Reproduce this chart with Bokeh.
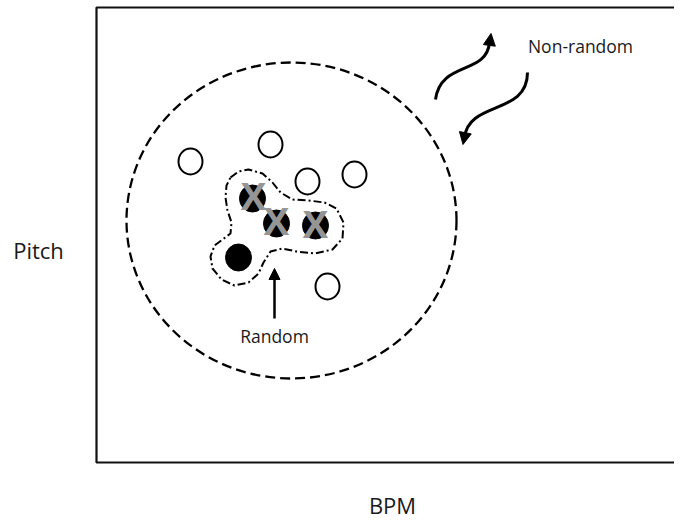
from bokeh.plotting import figure
from bokeh.models import Range1d, Arrow, NormalHead
from bokeh.core.properties import value
from bokeh.embed import file_html
from bokeh.resources import INLINE

# ---- data (diagram coordinates: BPM to the right, pitch downward on screen) ----
open_x = [190, 270, 307, 354, 327]
open_y = [161, 144, 181, 174, 286]

filled_x = [252, 276, 315, 238]
filled_y = [198, 223, 225, 257]

cross_x = [253, 276, 315]
cross_y = [195, 220, 223]
cross_text = ["X", "X", "X"]

cluster_cx, cluster_cy = [291], [220]
cluster_w, cluster_h = [330], [316]

blob_x = [230, 238, 248, 262, 272, 280, 292, 308, 324, 336, 343, 342, 332, 314, 296,
          282, 270, 263, 258, 248, 234, 221, 212, 210, 214, 222, 230, 231, 227, 225, 226, 230]
blob_y = [177, 171, 169, 173, 182, 192, 199, 200, 202, 208, 222, 238, 249, 253, 251,
          248, 251, 262, 273, 282, 285, 279, 268, 256, 245, 239, 233, 222, 210, 197, 185, 177]

frame_x = [700, 96, 96, 700]
frame_y = [7, 7, 462, 462]

labels = ["Random", "Non-random"]
label_x = [274, 580]
label_y = [335, 45]

axis_labels = ["Pitch", "BPM"]
axis_label_x = [38, 392]
axis_label_y = [249, 504]

FONT = "Open Sans"

p = figure(width=674, height=519, x_range=Range1d(0, 674), y_range=Range1d(519, 0),
           x_axis_type=None, y_axis_type=None, toolbar_location=None,
           output_backend="svg", min_border=0)
p.outline_line_color = None
p.grid.visible = False
p.background_fill_color = "white"

# frame
p.line(frame_x, frame_y, line_color="#111111", line_width=2.2)

# big dashed cluster
p.ellipse(x=cluster_cx, y=cluster_cy, width=cluster_w, height=cluster_h,
          fill_color=None, line_color="black", line_width=2.3, line_dash="10 5")

# open circles
p.ellipse(x=open_x, y=open_y, width=24, height=26, fill_color="white",
          line_color="black", line_width=2)

# dash-dot blob
p.line(blob_x, blob_y, line_color="black", line_width=2, line_dash="8 3 2 3")

# filled circles
p.ellipse(x=filled_x, y=filled_y, width=26, height=27, fill_color="black",
          line_color="black", line_width=1)

# grey crosses
p.text(x=cross_x, y=[v - 1 for v in cross_y], text=cross_text, text_font=value(FONT),
       text_font_style="bold", text_font_size="38px", text_align="center",
       text_baseline="alphabetic", text_color="#959595")

# Random arrow
p.add_layout(Arrow(end=NormalHead(size=11, fill_color="black", line_color="black"),
                   x_start=274, y_start=318, x_end=274, y_end=268,
                   line_color="black", line_width=2.5))

# wavy arrows
p.bezier(x0=[435, 527], y0=[99, 72], x1=[489, 464], y1=[42, 137],
         cx0=[440, 527], cy0=[60, 115], cx1=[486, 468], cy1=[75, 100],
         line_color="black", line_width=3)
p.add_layout(Arrow(end=NormalHead(size=12, fill_color="black", line_color="black"),
                   x_start=489, y_start=44, x_end=490.5, y_end=33,
                   line_color="black", line_width=0))
p.add_layout(Arrow(end=NormalHead(size=12, fill_color="black", line_color="black"),
                   x_start=464.5, y_start=134, x_end=462.5, y_end=144,
                   line_color="black", line_width=0))

# labels
p.text(x=label_x, y=label_y, text=labels, text_font=value(FONT), text_font_size="17.5px",
       text_align="center", text_baseline="alphabetic", text_color="#1a1a1a")
p.text(x=axis_label_x, y=axis_label_y, text=axis_labels, text_font=value(FONT),
       text_font_size="22px", text_align="center", text_baseline="alphabetic",
       text_color="#1a1a1a")

open("out.html", "w").write(file_html(p, INLINE))
